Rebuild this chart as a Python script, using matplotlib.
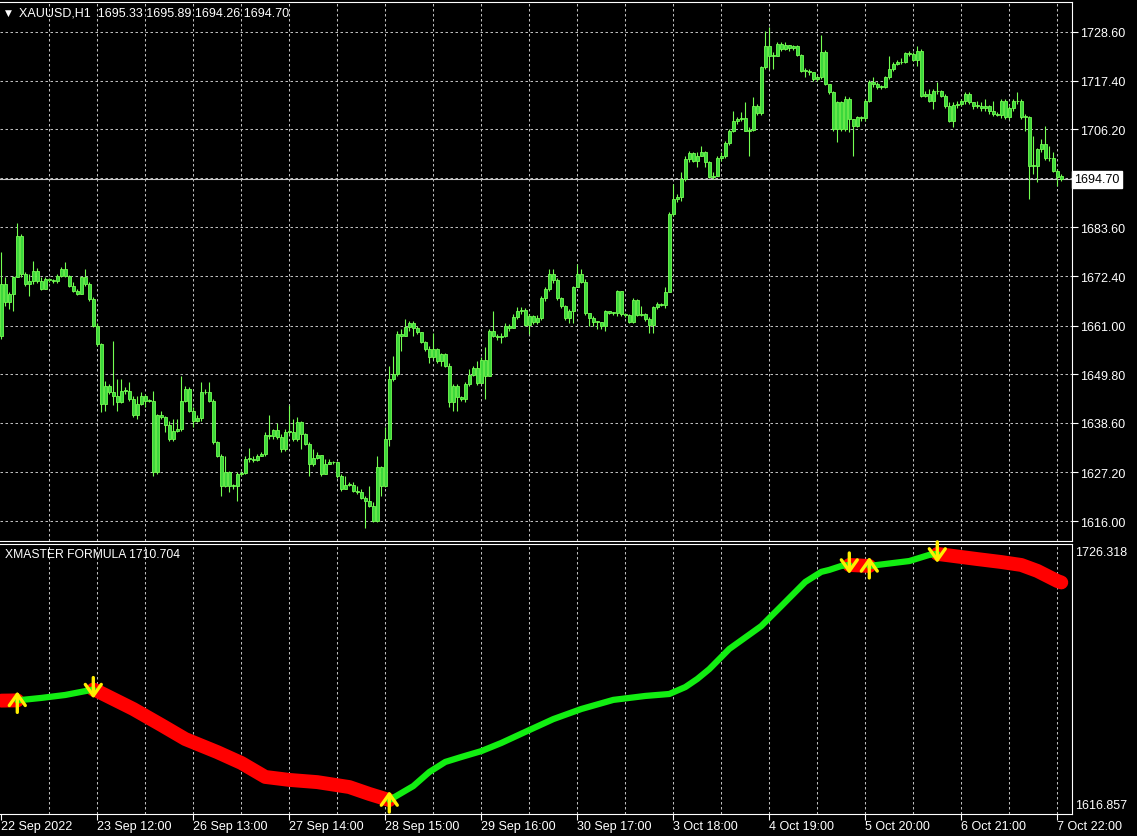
import numpy as np
import matplotlib
matplotlib.use("Agg")
import matplotlib.pyplot as plt
from matplotlib.transforms import offset_copy

plt.rcParams['font.family'] = ['Liberation Sans', 'DejaVu Sans']

# ---- XAUUSD H1 bars ----
symbol = "XAUUSD,H1"
header = [1695.33, 1695.89, 1694.26, 1694.70]   # O H L C of the last bar
first_open = 1658.7

closes = [
    1670.6, 1666.4, 1668.3, 1672.1, 1681.7, 1672.9, 1670.6, 1671.3, 1673.6, 1671.3,
    1669.4, 1671.7, 1671.5, 1671.3, 1672.5, 1674.0, 1672.5, 1670.2, 1669.0, 1668.3,
    1672.1, 1670.6, 1667.1, 1661.0, 1656.8, 1642.9, 1647.2, 1645.6, 1644.9, 1643.3,
    1646.0, 1645.9, 1644.1, 1640.3, 1642.9, 1644.9, 1643.7, 1643.7, 1627.2, 1640.3,
    1639.9, 1638.2, 1634.9, 1636.8, 1637.2, 1643.7, 1646.4, 1641.4, 1639.1, 1639.7,
    1645.6, 1645.8, 1643.7, 1634.1, 1630.9, 1624.1, 1627.2, 1624.1, 1624.1, 1626.8,
    1627.0, 1630.3, 1630.3, 1630.1, 1630.9, 1631.4, 1635.8, 1635.5, 1636.9, 1635.3,
    1632.6, 1636.6, 1636.6, 1634.9, 1638.7, 1636.0, 1633.7, 1629.1, 1630.4, 1631.2,
    1626.8, 1629.1, 1629.7, 1629.5, 1626.4, 1623.4, 1624.4, 1624.4, 1623.0, 1622.6,
    1621.4, 1620.7, 1619.5, 1616.1, 1628.4, 1624.1, 1634.9, 1648.7, 1649.8, 1659.1,
    1658.7, 1660.6, 1661.6, 1660.4, 1659.6, 1657.3, 1655.6, 1653.7, 1655.5, 1652.9,
    1654.4, 1651.8, 1643.5, 1647.2, 1644.6, 1644.2, 1647.5, 1649.7, 1651.2, 1647.7,
    1653.1, 1649.5, 1659.7, 1658.5, 1658.3, 1658.5, 1660.8, 1660.4, 1662.9, 1664.4,
    1664.7, 1661.1, 1663.3, 1661.8, 1662.8, 1667.4, 1669.4, 1672.9, 1671.5, 1667.3,
    1665.4, 1662.7, 1664.4, 1669.8, 1672.9, 1671.1, 1663.8, 1662.7, 1661.8, 1661.8,
    1661.0, 1664.3, 1664.0, 1663.9, 1669.0, 1663.7, 1663.4, 1661.9, 1666.9, 1663.5,
    1663.7, 1662.5, 1661.1, 1665.2, 1666.0, 1665.7, 1668.7, 1686.7, 1690.1, 1690.5,
    1694.7, 1699.4, 1700.7, 1699.0, 1700.1, 1700.9, 1698.6, 1695.1, 1695.5, 1699.7,
    1700.1, 1703.0, 1705.9, 1708.2, 1708.6, 1708.7, 1705.9, 1706.1, 1711.6, 1709.9,
    1720.5, 1725.4, 1723.1, 1723.1, 1725.8, 1724.7, 1725.6, 1724.8, 1725.3, 1723.3,
    1719.7, 1719.7, 1719.3, 1717.8, 1718.2, 1724.1, 1716.6, 1714.7, 1706.3, 1712.4,
    1706.3, 1713.2, 1708.6, 1707.0, 1709.0, 1708.7, 1712.8, 1717.2, 1716.6, 1715.9,
    1715.9, 1718.2, 1720.1, 1721.2, 1721.6, 1721.8, 1723.8, 1723.5, 1722.2, 1724.3,
    1713.9, 1714.3, 1712.8, 1715.1, 1714.9, 1713.9, 1711.6, 1708.2, 1711.8, 1712.0,
    1712.6, 1714.3, 1712.4, 1711.5, 1711.6, 1711.2, 1711.5, 1710.5, 1709.7, 1709.5,
    1712.8, 1709.0, 1711.0, 1712.8, 1712.6, 1709.0, 1709.0, 1697.8, 1697.8, 1701.7,
    1702.8, 1699.5, 1699.5, 1696.7, 1695.1, 1694.70,
]

highs = [
    1677.9, 1672.1, 1668.7, 1672.5, 1684.6, 1682.1, 1673.3, 1672.9, 1675.9, 1674.2,
    1672.1, 1672.1, 1671.9, 1671.7, 1672.9, 1674.4, 1675.6, 1672.6, 1671.0, 1669.4,
    1672.5, 1674.0, 1671.0, 1667.5, 1661.7, 1657.1, 1648.3, 1647.5, 1657.5, 1648.7,
    1648.7, 1646.8, 1647.9, 1644.9, 1644.9, 1645.6, 1645.2, 1644.1, 1646.0, 1640.6,
    1641.4, 1640.1, 1639.1, 1639.5, 1639.5, 1649.5, 1647.2, 1646.8, 1642.2, 1640.3,
    1647.9, 1646.4, 1647.9, 1644.1, 1634.5, 1631.4, 1631.0, 1627.6, 1624.5, 1627.2,
    1627.6, 1630.9, 1632.7, 1630.9, 1631.4, 1631.8, 1636.4, 1640.3, 1637.3, 1638.6,
    1636.0, 1637.2, 1642.6, 1639.5, 1639.9, 1639.1, 1636.2, 1634.1, 1632.6, 1631.8,
    1629.5, 1630.3, 1630.3, 1629.9, 1628.7, 1626.8, 1626.4, 1624.9, 1624.9, 1624.1,
    1623.4, 1621.8, 1624.1, 1620.3, 1631.0, 1628.7, 1637.6, 1651.8, 1654.1, 1659.8,
    1660.2, 1662.5, 1662.1, 1662.1, 1660.8, 1658.8, 1657.5, 1656.4, 1659.4, 1655.8,
    1654.8, 1654.7, 1652.4, 1647.5, 1647.5, 1644.9, 1647.9, 1651.0, 1651.8, 1652.9,
    1653.7, 1656.0, 1660.2, 1664.4, 1659.1, 1659.4, 1661.7, 1661.4, 1663.7, 1665.2,
    1665.2, 1665.0, 1663.7, 1663.4, 1663.4, 1667.7, 1669.8, 1674.0, 1674.0, 1671.9,
    1667.5, 1665.7, 1664.8, 1670.2, 1675.2, 1674.0, 1671.7, 1664.0, 1663.1, 1662.1,
    1661.6, 1664.7, 1664.4, 1664.2, 1669.3, 1669.0, 1664.0, 1663.7, 1667.3, 1667.1,
    1665.6, 1663.9, 1662.9, 1665.6, 1666.4, 1666.2, 1669.8, 1687.1, 1693.6, 1691.3,
    1696.3, 1700.1, 1701.3, 1700.9, 1700.9, 1702.4, 1701.3, 1699.0, 1696.3, 1700.1,
    1700.9, 1703.4, 1706.3, 1710.5, 1709.0, 1710.1, 1712.4, 1706.7, 1713.6, 1712.0,
    1720.8, 1728.9, 1729.7, 1723.9, 1726.2, 1726.2, 1726.2, 1725.4, 1725.6, 1725.6,
    1723.5, 1720.2, 1720.1, 1719.3, 1718.7, 1727.8, 1724.5, 1716.6, 1715.1, 1712.8,
    1712.8, 1713.9, 1713.6, 1708.6, 1709.3, 1709.3, 1713.2, 1717.5, 1718.2, 1717.0,
    1716.4, 1718.5, 1723.1, 1721.8, 1722.2, 1722.5, 1724.1, 1724.3, 1724.1, 1725.3,
    1724.7, 1715.1, 1715.5, 1715.5, 1717.0, 1715.3, 1714.3, 1712.4, 1712.4, 1712.6,
    1713.2, 1714.7, 1714.7, 1712.4, 1712.8, 1712.4, 1713.2, 1711.8, 1712.8, 1710.1,
    1713.2, 1713.2, 1711.5, 1713.2, 1714.7, 1713.2, 1709.7, 1709.3, 1704.7, 1702.0,
    1704.0, 1707.0, 1702.4, 1700.9, 1697.0, 1695.89,
]

lows = [
    1657.9, 1665.6, 1664.8, 1664.4, 1672.1, 1672.1, 1670.2, 1667.9, 1670.6, 1670.9,
    1669.3, 1669.4, 1671.1, 1670.8, 1670.8, 1672.3, 1672.3, 1669.8, 1668.8, 1668.0,
    1668.5, 1670.0, 1666.7, 1660.6, 1656.4, 1641.0, 1641.4, 1645.2, 1642.6, 1641.4,
    1643.2, 1645.2, 1643.7, 1639.9, 1639.6, 1642.6, 1642.2, 1643.3, 1626.4, 1626.8,
    1639.5, 1636.4, 1634.5, 1634.5, 1636.4, 1636.8, 1643.3, 1641.0, 1637.6, 1638.7,
    1639.1, 1645.2, 1643.3, 1633.7, 1630.7, 1621.8, 1623.8, 1622.6, 1623.4, 1620.7,
    1626.4, 1626.8, 1629.5, 1629.7, 1629.9, 1630.9, 1631.0, 1634.9, 1634.9, 1634.9,
    1631.8, 1632.2, 1636.0, 1634.5, 1634.5, 1632.6, 1633.4, 1626.4, 1628.7, 1630.3,
    1626.4, 1626.8, 1629.1, 1629.1, 1626.0, 1623.0, 1623.4, 1624.0, 1622.6, 1622.2,
    1621.1, 1614.5, 1619.2, 1615.7, 1615.7, 1621.8, 1623.8, 1633.3, 1648.3, 1649.5,
    1655.2, 1658.7, 1659.8, 1658.7, 1659.1, 1657.0, 1655.2, 1652.5, 1653.3, 1652.5,
    1651.8, 1651.4, 1642.2, 1641.4, 1641.4, 1643.7, 1643.5, 1647.2, 1649.3, 1647.4,
    1649.1, 1644.1, 1652.5, 1658.3, 1657.7, 1657.0, 1658.3, 1659.8, 1660.6, 1662.5,
    1663.7, 1660.8, 1659.1, 1661.4, 1661.4, 1662.4, 1666.7, 1669.0, 1670.9, 1667.0,
    1665.0, 1662.4, 1661.7, 1661.7, 1670.2, 1670.8, 1663.4, 1661.0, 1661.0, 1660.2,
    1660.2, 1659.8, 1663.7, 1663.4, 1663.3, 1663.3, 1662.9, 1661.6, 1661.6, 1663.1,
    1663.3, 1662.1, 1659.4, 1659.3, 1664.8, 1665.4, 1665.0, 1669.8, 1686.3, 1689.4,
    1689.8, 1694.4, 1698.6, 1698.6, 1697.4, 1700.0, 1697.4, 1694.9, 1694.7, 1695.5,
    1699.0, 1699.5, 1702.6, 1705.5, 1707.4, 1708.2, 1705.7, 1700.1, 1705.7, 1709.5,
    1709.5, 1720.1, 1720.1, 1720.1, 1723.1, 1724.3, 1724.5, 1724.3, 1724.5, 1723.0,
    1719.5, 1718.2, 1718.7, 1717.4, 1717.4, 1717.8, 1716.4, 1714.3, 1705.9, 1703.2,
    1705.9, 1705.9, 1705.5, 1700.1, 1706.7, 1708.2, 1708.2, 1712.4, 1715.9, 1715.5,
    1715.5, 1715.6, 1717.8, 1719.7, 1721.0, 1721.2, 1721.4, 1723.0, 1722.0, 1720.7,
    1713.6, 1713.6, 1712.4, 1710.9, 1714.3, 1713.6, 1711.2, 1707.8, 1706.7, 1711.2,
    1711.6, 1712.0, 1712.0, 1710.9, 1711.0, 1710.5, 1710.5, 1709.7, 1709.3, 1709.2,
    1708.9, 1708.6, 1708.6, 1710.5, 1712.0, 1708.6, 1705.9, 1690.1, 1695.9, 1694.0,
    1700.9, 1699.2, 1699.0, 1696.3, 1693.2, 1694.26,
]

price_ticks = [1616.00, 1627.20, 1638.60, 1649.80, 1661.00, 1672.40,
               1683.60, 1694.90, 1706.20, 1717.40, 1728.60]
price_labels = ["1616.00", "1627.20", "1638.60", "1649.80", "1661.00", "1672.40",
                "1683.60", "", "1706.20", "1717.40", "1728.60"]

time_tick_bars = [0, 24, 48, 72, 96, 120, 144, 168, 192, 216, 240, 264]
time_labels = ["22 Sep 2022", "23 Sep 12:00", "26 Sep 13:00", "27 Sep 14:00",
               "28 Sep 15:00", "29 Sep 16:00", "30 Sep 17:00", "3 Oct 18:00",
               "4 Oct 19:00", "5 Oct 20:00", "6 Oct 21:00", "7 Oct 22:00"]

# ---- XMASTER FORMULA indicator (read at selected bars) ----
ind_name = "XMASTER FORMULA"
ind_current = 1710.704
ind_axis_min, ind_axis_max = 1616.857, 1726.318
ind_bars = [0, 4, 10, 16, 23, 24, 33, 40, 46, 54, 60, 66, 72, 79, 87, 92, 97,
            103, 107, 111, 115, 120, 125, 131, 138, 145, 153, 157, 161, 167, 171,
            174, 177, 182, 190, 195, 198, 201, 205, 207, 210, 212, 217, 219, 227,
            232, 234, 244, 250, 255, 259, 264, 265]
ind_vals = [1662.7, 1662.8, 1663.8, 1665.0, 1667.2, 1666.6, 1659.3, 1652.8, 1647.1,
            1641.8, 1637.4, 1631.7, 1630.5, 1629.6, 1627.6, 1624.8, 1622.3, 1628.0,
            1633.7, 1637.8, 1639.8, 1642.2, 1645.5, 1650.0, 1655.2, 1659.3, 1663.0,
            1663.8, 1664.6, 1665.4, 1668.2, 1671.5, 1675.5, 1683.7, 1693.0, 1701.1,
            1706.0, 1710.9, 1715.0, 1715.8, 1717.4, 1717.8, 1717.4, 1717.8, 1719.4,
            1721.9, 1722.3, 1720.2, 1719.0, 1717.8, 1715.4, 1711.3, 1710.704]
signal_bars = [4, 23, 97, 212, 217, 234]
signal_dirs = ["up", "down", "up", "down", "up", "down"]

# ---- figure in pixel layout ----
W, H = 1137, 837
fig = plt.figure(figsize=(W / 100, H / 100), dpi=100, facecolor="black")


def px_axes(left, top, right, bottom):
    a = fig.add_axes([left / W, 1 - bottom / H, (right - left) / W, (bottom - top) / H])
    a.set_facecolor("black")
    return a


ax = px_axes(0, 2.5, 1071.5, 541.7)
ax2 = px_axes(0, 545, 1071.5, 814.5)

GRID = "#bdbdbd"
EDGE = "#74ff52"
FACE = "#3cd83c"
FONT = 9

n = len(closes)
x = np.arange(n)
c = np.array(closes)
o = np.array([first_open] + closes[:-1])
o[-1] = header[0]
hi = np.maximum(np.array(highs), np.maximum(o, c))
lo = np.minimum(np.array(lows), np.minimum(o, c))

for a in (ax, ax2):
    a.set_xlim(-0.325, 267.55)
    for k in range(12, n, 12):
        a.axvline(k, color=GRID, lw=0.75, ls=(0, (2.4, 2.4)), zorder=0)
    for s in a.spines.values():
        s.set_color("white")
        s.set_linewidth(0.8)
    a.spines["left"].set_visible(False)

# main chart
ax.set_ylim(1611.47, 1735.62)
for v in price_ticks:
    ax.axhline(v, color=GRID, lw=0.75, ls=(0, (2.4, 2.4)), zorder=0)
ax.axhline(header[3], color="#c8c8c8", lw=0.8, zorder=1)

ax.vlines(x, lo, hi, color=EDGE, lw=0.8, zorder=2)
ax.bar(x, np.maximum(np.abs(c - o), 0.2), bottom=np.minimum(o, c), width=0.62,
       color=FACE, edgecolor=EDGE, linewidth=0.6, zorder=3)

ax.yaxis.tick_right()
ax.set_yticks(price_ticks)
ax.set_yticklabels(price_labels)
ax.tick_params(axis="y", colors="white", direction="out", length=4, width=0.8,
               pad=2, labelsize=FONT)
ax.tick_params(axis="x", bottom=False, labelbottom=False)

ax.annotate(f"{header[3]:.2f}", xy=(1, header[3]), xycoords=ax.get_yaxis_transform(),
            xytext=(3, 0), textcoords="offset pixels", va="center", ha="left",
            fontsize=FONT, color="black", annotation_clip=False,
            bbox=dict(boxstyle="square,pad=0.2", fc="white", ec="white"))

fig.text(5 / W, 1 - 13 / H, "\u25bc", family="DejaVu Sans", fontsize=6.5,
         color="white", va="center")
fig.text(19 / W, 1 - 13 / H, symbol + "  " + " ".join(f"{v:.2f}" for v in header),
         fontsize=FONT, color="white", va="center")

# indicator panel
ax2.set_ylim(ind_axis_min, ind_axis_max)
ax2.set_yticks([])
bars = np.array(ind_bars)
vals = np.array(ind_vals)
bounds = [0] + signal_bars + [ind_bars[-1]]
colors = ["red"] + ["green" if d == "up" else "red" for d in signal_dirs]
for want, col, lw, z in (("red", "#ff0000", 10, 2), ("green", "#12ee12", 4.5, 3)):
    for i in range(len(bounds) - 1):
        if colors[i] != want:
            continue
        m = (bars >= bounds[i]) & (bars <= bounds[i + 1])
        ax2.plot(bars[m], vals[m], color=col, lw=lw, solid_capstyle="round",
                 solid_joinstyle="round", zorder=z)

for b, d in zip(signal_bars, signal_dirs):
    v = vals[ind_bars.index(b)]
    off = 9 if d == "up" else -9
    tip = offset_copy(ax2.transData, fig=fig, x=0, y=off, units="dots")
    ax2.annotate("", xy=(b, v), xycoords=tip, xytext=(0, -21 if d == "up" else 21),
                 textcoords="offset pixels",
                 arrowprops=dict(arrowstyle="->,head_length=0.45,head_width=0.32",
                                 color="#ffee00", lw=2.4, mutation_scale=18,
                                 shrinkA=0, shrinkB=0), zorder=4)

ax2.set_xticks(time_tick_bars)
ax2.set_xticklabels(time_labels)
for lab in ax2.get_xticklabels():
    lab.set_ha("left")
ax2.tick_params(axis="x", colors="white", direction="out", length=4, width=0.8,
                pad=0.5, labelsize=FONT)

fig.text(5 / W, 1 - 555 / H, f"{ind_name} {ind_current:.3f}", fontsize=FONT - 0.3,
         color="white", va="center")
fig.text(1075 / W, 1 - 553 / H, f"{ind_axis_max:.3f}", fontsize=FONT, color="white",
         va="center")
fig.text(1075 / W, 1 - 806 / H, f"{ind_axis_min:.3f}", fontsize=FONT, color="white",
         va="center")

fig.savefig("out.png", dpi=100, facecolor="black")
